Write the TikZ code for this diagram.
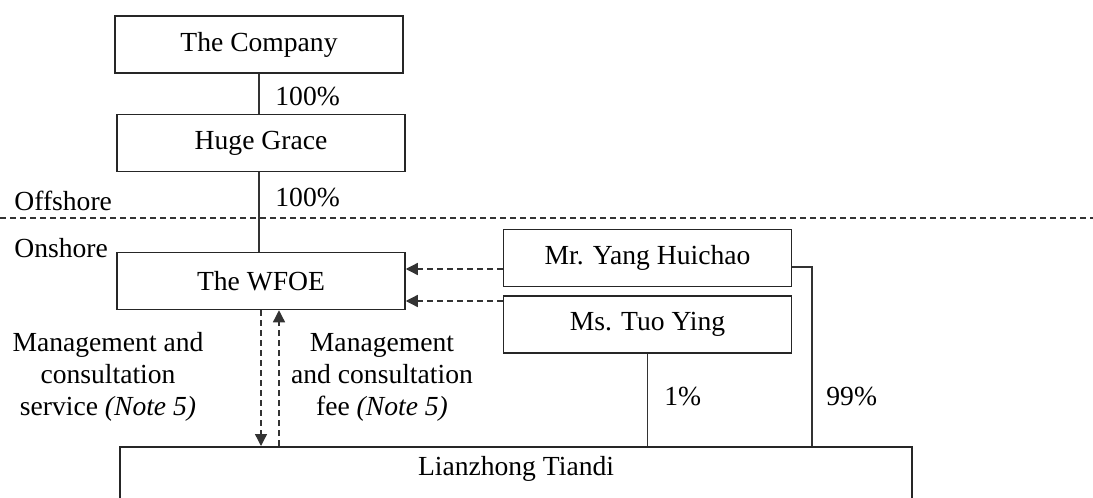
\documentclass[tikz,border=0pt]{standalone}
\usepackage{fontspec}
\setmainfont{Liberation Serif}
\usetikzlibrary{arrows.meta}

\begin{document}
\begin{tikzpicture}[x=0.5pt, y=-0.5pt,
    every node/.style={font=\fontsize{13.8}{16}\selectfont},
    entity/.style={rectangle, draw=black!85, line width=0.75pt, minimum width=144pt, minimum height=28.5pt, inner sep=0pt},
    own_link/.style={draw=black!80, line width=0.65pt},
    ctrl_link/.style={draw=black!80, line width=0.65pt, dash pattern=on 3pt off 2pt, -{Triangle[length=6pt,width=6pt]}},
    pct/.style={anchor=west, inner sep=0pt},
    note/.style={align=center, inner sep=0pt} % testo delle frecce di servizio
]
\useasboundingbox (0,0) rectangle (1093,498);

\node[entity] (company) at (259,44.5) {The Company};
\node[entity] (huge) at (261,143) {Huge Grace};
\node[entity] (wfoe) at (261,281) {The WFOE};
\node[entity] (yang) at (647.5,258) {Mr. Yang Huichao};
\node[entity] (tuo) at (647.5,324.5) {Ms. Tuo Ying};
\node[entity, anchor=north, minimum width=396pt, text height=14.5pt, text depth=20pt] (lianzhong) at (516,446) {Lianzhong Tiandi};

% offshore / onshore
\coordinate (border_l) at (0,218);
\coordinate (border_r) at (1093,218);
\draw[draw=black!80, line width=0.65pt, dash pattern=on 3pt off 2pt] (border_l) -- (border_r);
\node[pct] (offshore) at (14,201) {Offshore};
\node[pct] (onshore) at (14,248) {Onshore};

\draw[own_link] (company.south) -- (company.south |- huge.north);
\draw[own_link] (company.south |- huge.south) -- (company.south |- wfoe.north);
\node[pct] (pct_huge) at (275,97) {100\%};
\node[pct] (pct_wfoe) at (275,198) {100\%};

\draw[ctrl_link] ([yshift=-5.5pt]yang.west) -- ([yshift=-5.5pt]yang.west -| wfoe.east);
\draw[ctrl_link] ([yshift=11.75pt]tuo.west) -- ([yshift=11.75pt]tuo.west -| wfoe.east);

\coordinate (yang_turn) at (812,267);
\draw[own_link] ([yshift=-4.5pt]yang.east) -- (yang_turn) -- (yang_turn |- lianzhong.north);
\draw[own_link] (tuo.south) -- (tuo.south |- lianzhong.north);
\node[pct] (pct_tuo) at (664,397) {1\%};
\node[pct] (pct_yang) at (826,397) {99\%};

\coordinate (fee_top) at ([xshift=9pt]wfoe.south);
\draw[ctrl_link] (wfoe.south) -- (wfoe.south |- lianzhong.north);
\draw[ctrl_link] (fee_top |- lianzhong.north) -- (fee_top);
\node[note] (service) at (108,377) {Management and\\consultation\\service \textit{(Note 5)}};
\node[note] (fee) at (382,377) {Management\\and consultation\\fee \textit{(Note 5)}};
\end{tikzpicture}
\end{document}
